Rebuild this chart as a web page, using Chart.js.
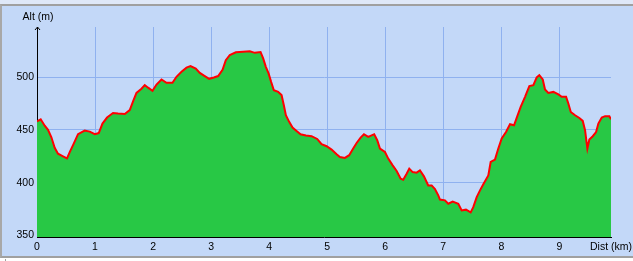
<!DOCTYPE html>
<html>
<head>
<meta charset="utf-8">
<script src="https://cdn.jsdelivr.net/npm/chart.js@4/dist/chart.umd.min.js"></script>
<style>
  body { margin: 0; width: 633px; height: 261px; overflow: hidden; position: relative; background: #fff; }
  #strip { position: absolute; left: 0; top: 0; width: 633px; height: 4px; background: #dfe8f8; }
  #panel { position: absolute; left: 0; top: 4px; width: 633px; height: 254px; box-sizing: border-box;
           background: #c3d8f8; border-top: 2px solid #a0a0a0; border-left: 2px solid #a8a8a8; border-bottom: 2px solid #a0a0a0; }
  #foot { position: absolute; left: 5px; top: 259px; width: 1px; height: 2px; background: #a0a0a0; }
  canvas { position: absolute; left: 0; top: 0; }
</style>
</head>
<body>
<div id="strip"></div>
<div id="panel"></div>
<div id="foot"></div>
<canvas id="profile" width="633" height="261"></canvas>
<script>
// distance (km) / altitude (m) read from the profile
var dist = [0, 0.064, 0.133, 0.19, 0.248, 0.305, 0.362, 0.448, 0.517, 0.564, 0.633, 0.707, 0.822, 0.909, 0.995,
  1.064, 1.128, 1.207, 1.31, 1.397, 1.512, 1.598, 1.655, 1.714, 1.8, 1.857, 1.914, 1.99,
  2.059, 2.145, 2.231, 2.334, 2.403, 2.49, 2.576, 2.645, 2.736, 2.805, 2.891, 2.966,
  3.047, 3.121, 3.197, 3.253, 3.322, 3.426, 3.552, 3.667, 3.753, 3.852, 3.897, 3.943, 3.99,
  4.034, 4.081, 4.155, 4.214, 4.253, 4.288, 4.345, 4.403, 4.472, 4.541, 4.633, 4.731, 4.828, 4.903, 4.99,
  5.076, 5.162, 5.219, 5.305, 5.379, 5.448, 5.507, 5.576, 5.633, 5.707, 5.81, 5.862, 5.909, 5.995,
  6.052, 6.128, 6.197, 6.266, 6.31, 6.369, 6.414, 6.472, 6.541, 6.598, 6.667, 6.741, 6.8, 6.857, 6.914, 6.943,
  7.029, 7.086, 7.162, 7.259, 7.317, 7.391, 7.472, 7.517, 7.576, 7.633, 7.69, 7.776, 7.817, 7.891, 7.948,
  8.007, 8.081, 8.15, 8.219, 8.276, 8.334, 8.409, 8.483, 8.552, 8.61, 8.655, 8.714, 8.753, 8.81, 8.897, 8.983,
  9.041, 9.116, 9.155, 9.197, 9.271, 9.345, 9.403, 9.443, 9.483, 9.517, 9.576, 9.633, 9.672, 9.731, 9.788, 9.862, 9.89];
var alt = [458, 460, 454, 450, 443, 433, 427.5, 425, 423, 429, 437, 446, 449.4, 448.4, 446,
  447, 456, 461.7, 466, 465.5, 465, 468.7, 477, 485, 489, 492.4, 490, 487,
  493, 497.8, 494.6, 494.6, 500.3, 505, 509, 510.4, 508, 504, 501, 498.4,
  499.7, 501, 507, 516, 521, 523.5, 524, 524.4, 523, 523.7, 517.8, 509.8, 503.5,
  495.5, 487.6, 486, 483, 473.4, 464, 457.6, 452.2, 449, 445.9, 444.6, 444, 441.4, 436.4, 434.5,
  431.3, 426.9, 424.3, 423.4, 426, 432.3, 437.6, 442.7, 445.9, 443.3, 445.9, 440.2, 432.3, 429,
  422.8, 416.4, 411, 403.8, 402.8, 408.5, 413.3, 410, 409.5, 411.7, 406, 397.4, 397.4, 394, 388, 384,
  383.2, 380, 382, 380, 373.7, 374.4, 371.8, 376.8, 386.3, 392.7, 398.4, 406.9, 419.6, 421.8, 432.3,
  441.8, 448, 455.4, 454.4, 463, 471.8, 481.3, 491.5, 492.4, 499.7, 501.9, 497.8, 488.3, 485, 486, 483.6,
  481.3, 481.3, 475, 467, 463.9, 461.3, 458.5, 449.7, 432.3, 440.8, 444, 448, 456, 461.7, 463, 463, 460];
var xTicks = [0, 1, 2, 3, 4, 5, 6, 7, 8, 9];
var yTicks = [350, 400, 450, 500];

var points = dist.map(function (d, i) { return { x: d, y: alt[i] }; });
var last = dist.length - 1;
var edge = [{ x: dist[last], y: 348.5 }, { x: dist[last], y: alt[last] }];

var FONT = { family: '"Liberation Sans", Arial, sans-serif', size: 10.5 };

var decorations = {
  id: 'decorations',
  afterDraw: function (chart) {
    var ctx = chart.ctx, a = chart.chartArea;
    ctx.save();
    // arrow head on the altitude axis
    ctx.strokeStyle = '#000';
    ctx.lineWidth = 1;
    ctx.beginPath();
    ctx.moveTo(a.left - 2, a.top + 3);
    ctx.lineTo(a.left + 0.5, a.top);
    ctx.lineTo(a.left + 3, a.top + 3);
    ctx.stroke();
    ctx.fillStyle = '#000';
    ctx.font = FONT.size + 'px ' + FONT.family;
    ctx.textBaseline = 'middle';
    ctx.textAlign = 'center';
    ctx.fillText('Alt (m)', a.left + 1, 17);
    ctx.textAlign = 'right';
    ctx.fillText('Dist (km)', 632, 247);
    ctx.restore();
  }
};

new Chart(document.getElementById('profile'), {
  type: 'line',
  data: {
    datasets: [{
      data: points,
      borderColor: '#ff0000',
      borderWidth: 2,
      backgroundColor: '#28c845',
      fill: 'start',
      pointRadius: 0,
      tension: 0
    }, {
      data: edge,
      borderColor: '#000',
      borderWidth: 1,
      pointRadius: 0,
      fill: false
    }]
  },
  options: {
    responsive: false,
    animation: false,
    layout: { padding: { top: 27, right: 22, left: 0, bottom: 0 } },
    plugins: { legend: { display: false }, tooltip: { enabled: false } },
    scales: {
      x: {
        type: 'linear',
        min: 0,
        max: dist[last],
        afterBuildTicks: function (s) { s.ticks = xTicks.map(function (v) { return { value: v }; }); },
        afterFit: function (s) { s.height = 24; },
        grid: { color: '#8fb1ef', drawTicks: false },
        border: { color: '#000', width: 1 },
        ticks: { color: '#000', font: FONT, padding: 4, maxRotation: 0 }
      },
      y: {
        min: 348.5,
        max: 547.5,
        afterBuildTicks: function (s) { s.ticks = yTicks.map(function (v) { return { value: v }; }); },
        afterFit: function (s) { s.width = 37; },
        grid: { color: '#8fb1ef', drawTicks: false },
        border: { color: '#000', width: 1 },
        ticks: { color: '#000', font: FONT, padding: 3 }
      }
    }
  },
  plugins: [decorations]
});
</script>
</body>
</html>
